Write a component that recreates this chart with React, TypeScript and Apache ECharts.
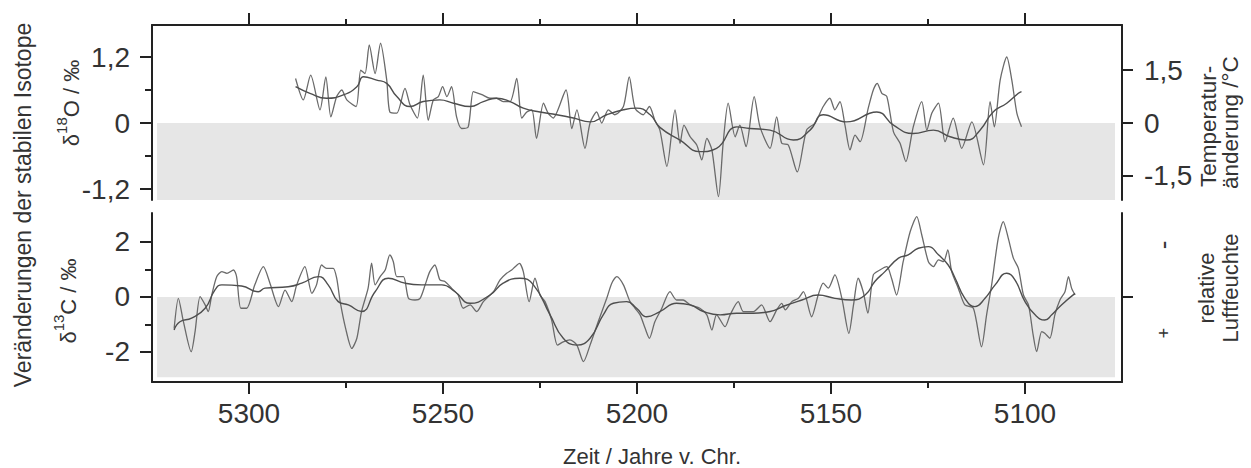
import React, { useEffect, useRef } from "react";
import * as echarts from "echarts";

// ---------- data ----------
const xMajorTicks = [5300, 5250, 5200, 5150, 5100];
const xMinorTicks = [5275, 5225, 5175, 5125];
const o18Ticks = [1.2, 0, -1.2];
const o18MinorTicks = [0.6, -0.6];
const tempTicks = [1.5, 0, -1.5];
const c13Ticks = [2, 0, -2];
const c13MinorTicks = [1, -1];
const humidityTicks = [0];

// δ18O raw (year v. Chr., ‰)
const o18Raw: [number, number][] = [
  [5288, 0.81], [5286, 0.42], [5284.1, 0.87], [5281.7, 0.24], [5280.2, 0.84], [5278.9, 0.11],
  [5277.4, 0.48], [5276.1, 0.6], [5274.8, 0.42], [5272.4, 0.3], [5271.2, 0.96], [5270.1, 0.9],
  [5269, 1.42], [5267.5, 0.9], [5266.1, 1.45], [5264.5, 0.78], [5263.7, 0.2], [5261.9, 0.18],
  [5259.8, 0.63], [5258.5, 0.33], [5256.6, 0.09], [5255.1, 0.87], [5253.8, 0.05], [5252.5, 0.42],
  [5251.2, 0.48], [5250.1, 0.66], [5249, 0.48], [5247.8, 0.66], [5246.5, 0.11], [5245.2, -0.1],
  [5243.5, -0.07], [5242.2, 0.57], [5240.9, 0.54], [5239.8, 0.51], [5237.9, 0.45], [5236.2, 0.45],
  [5234.5, 0.39], [5232.7, 0.39], [5231, 0.81], [5229.7, 0.09], [5228.4, 0.2], [5227.1, 0.24],
  [5225.9, -0.28], [5224.1, 0.36], [5222.9, 0.18], [5221.6, 0.09], [5218.3, 0.6], [5216.8, -0.1],
  [5215.5, 0.24], [5213.4, -0.46], [5212.1, 0], [5210.4, 0.2], [5209.1, 0], [5207.4, 0.24],
  [5205.7, 0.15], [5203.5, 0.3], [5202, 0.84], [5200.5, 0.27], [5198.4, 0.15], [5196.8, 0.3],
  [5195.4, 0.05], [5194.1, -0.13], [5192.3, -0.79], [5190.2, 0.24], [5188.9, -0.37], [5187.9, -0.04],
  [5186.3, -0.25], [5184.6, -0.4], [5183.3, -0.67], [5182, -0.28], [5180.7, -0.49], [5179, -1.34],
  [5177.8, -0.37], [5176.5, 0.36], [5174.7, -0.25], [5173.5, -0.04], [5171.9, -0.43], [5169.8, 0.48],
  [5168.3, -0.07], [5165.7, -0.46], [5164, 0.11], [5162.7, -0.37], [5161, -0.4], [5158.7, -0.89],
  [5156.3, -0.13], [5154.1, 0], [5152, 0.3], [5150.3, 0.45], [5149, 0.24], [5147.7, 0.39],
  [5146.4, -0.04], [5145.1, -0.49], [5143.8, -0.22], [5142.5, -0.34], [5140.4, 0.27], [5139.1, 0.6],
  [5138.1, 0.72], [5136.9, 0.54], [5135.6, 0.48], [5133.9, -0.16], [5132.2, -0.37], [5130.7, -0.7],
  [5128.8, -0.07], [5126.6, 0.39], [5125.3, -0.13], [5124, 0.18], [5122.3, 0.36], [5120.6, -0.34],
  [5118.5, 0.09], [5116.3, -0.46], [5113.7, 0.02], [5110.7, -0.76], [5109, 0.39], [5107.9, -0.07],
  [5106.4, 0.78], [5104.7, 1.2], [5103.4, 0.78], [5102.1, 0.18], [5100.9, -0.07],
];

// δ18O smoothed
const o18Smooth: [number, number][] = [
  [5288, 0.66], [5284.3, 0.54], [5280, 0.45], [5275.7, 0.51], [5272.2, 0.66], [5270.5, 0.84],
  [5267.1, 0.78], [5264.5, 0.72], [5261.9, 0.48], [5258.5, 0.3], [5255.1, 0.39], [5250.8, 0.42],
  [5247.3, 0.36], [5243, 0.3], [5239.6, 0.39], [5236.2, 0.45], [5232.7, 0.39], [5229.3, 0.27],
  [5225, 0.2], [5220.7, 0.15], [5216.4, 0.09], [5212.1, 0.02], [5207.8, 0.15], [5203.5, 0.24],
  [5200.1, 0.27], [5196.6, 0.15], [5194.1, -0.08], [5188.9, -0.31], [5183.8, -0.52], [5179.5, -0.46],
  [5174.3, -0.07], [5170.9, -0.1], [5165.7, -0.13], [5159.7, -0.31], [5155.4, -0.13], [5152, 0.15],
  [5146, 0.02], [5138.2, 0.2], [5133.9, -0.04], [5128.8, -0.19], [5123.6, -0.13], [5119.3, -0.25],
  [5115, -0.31], [5111.6, -0.13], [5108.2, 0.2], [5104.7, 0.36], [5101.7, 0.54], [5100.9, 0.57],
];

// δ13C raw
const c13Raw: [number, number][] = [
  [5319.3, -1.15], [5318.2, -0.05], [5316.9, -0.9], [5314.9, -1.99], [5313.9, -1.26], [5312.6, 0.01],
  [5311.3, -0.29], [5310.5, -0.53], [5309.6, 0.07], [5308.3, 0.74], [5307, 0.92], [5305.7, 0.86],
  [5304, 0.98], [5303.2, 0.74], [5302.1, -0.41], [5300.6, -0.41], [5298.5, 0.44], [5296.3, 1.1],
  [5294.6, 0.5], [5292.4, -0.35], [5290.7, 0.25], [5289, -0.17], [5287.7, 0.44], [5285.6, 1.1],
  [5283.8, 0.13], [5282.6, 0.44], [5281.3, 1.16], [5280, 1.04], [5278.3, 1.04], [5277.4, 0.68],
  [5276.5, -0.17], [5275.1, -1.14], [5273.5, -1.87], [5272.2, -1.5], [5271, -0.53], [5269.3, 0.32],
  [5268.4, 1.23], [5267.5, 0.44], [5266.2, 0.74], [5264.9, 0.98], [5263.7, 1.53], [5262.8, 1.28],
  [5261.9, 0.74], [5260.2, 0.74], [5258.9, -0.05], [5257.2, -0.11], [5255.9, -0.05], [5254.6, 0.44],
  [5253.4, 0.92], [5252.1, 1.16], [5250.8, 0.62], [5249.5, 0.56], [5247.8, 0.32], [5246.1, 0.07],
  [5244.8, -0.41], [5243, -0.29], [5241.3, -0.53], [5239.6, -0.17], [5237, 0.19], [5235.3, 0.62],
  [5233.6, 0.86], [5232.3, 0.98], [5231.4, 1.1], [5230.3, 1.22], [5229.3, 0.92], [5227.8, -0.17],
  [5226.3, 0.68], [5225, 0.07], [5223.7, -0.17], [5222, -0.84], [5220.5, -1.75], [5219, -1.63],
  [5217.3, -1.56], [5215.5, -1.75], [5213.8, -2.35], [5212.1, -1.75], [5210, -0.9], [5207.8, -0.05],
  [5206.5, 0.5], [5205.2, 0.74], [5203.5, 0.44], [5201.8, -0.17], [5200.5, -0.41], [5199.2, -0.65],
  [5197.9, -1.14], [5196.8, -1.5], [5195.4, -0.9], [5193.6, -0.41], [5191.5, 0.19], [5189.8, -0.11],
  [5188.1, -0.11], [5186.3, -0.29], [5183.8, -0.41], [5182, -0.65], [5180.7, -1.2], [5179.5, -0.65],
  [5177.3, -1.08], [5176, -0.65], [5173.9, -0.17], [5172.6, -0.53], [5170, -0.53], [5167.9, -0.29],
  [5165.7, -0.9], [5164, -0.47], [5162.7, -0.23], [5161.8, -0.47], [5160.1, -0.17], [5158.4, -0.05],
  [5157.1, 0.19], [5155, -0.72], [5153.3, 0.07], [5152, 0.5], [5150.7, 0.32], [5149, 0.8],
  [5147.2, -0.05], [5145.4, -1.32], [5144.2, -0.29], [5143, 0.68], [5141.7, 0.19], [5140.5, -0.59],
  [5139.1, 0.8], [5137.4, 0.98], [5135.6, 1.1], [5134.4, 0.68], [5133.1, 0.07], [5131.4, 1.28],
  [5129.6, 2.37], [5127.9, 2.92], [5126.6, 2.25], [5124.9, 1.28], [5123.6, 1.1], [5122.3, 1.35],
  [5121, 1.28], [5119.9, 1.71], [5118.9, 0.92], [5117.2, 0.32], [5115.5, -0.29], [5113.3, -0.41],
  [5111.2, -1.81], [5109.9, -0.65], [5108.6, 0.44], [5106.9, 2.13], [5105.6, 2.74], [5104.3, 2.13],
  [5103, 1.41], [5101.7, 1.04], [5100.4, 0.07], [5099.1, -0.29], [5097.9, -1.38], [5097, -1.99],
  [5095.7, -1.26], [5094.9, -1.32], [5093.6, -1.5], [5092.3, -0.65], [5091, -0.11], [5089.7, 0.19],
  [5088.8, 0.74], [5088, 0.32], [5087.1, 0.07],
];

// δ13C smoothed
const c13Smooth: [number, number][] = [
  [5319.3, -1.2], [5317.8, -0.9], [5314.8, -0.77], [5311.3, -0.41], [5308.8, 0.25], [5307, 0.44],
  [5301.9, 0.4], [5297.6, 0.19], [5295.9, 0.32], [5289.9, 0.37], [5286.4, 0.5], [5282.1, 0.74],
  [5279.6, 0.44], [5277, -0.17], [5274.4, -0.29], [5271, -0.53], [5267.5, 0.19], [5264.1, 0.68],
  [5259.8, 0.5], [5255.5, 0.44], [5250.3, 0.44], [5246.9, 0.19], [5243, -0.23], [5237.9, 0.07],
  [5234.5, 0.5], [5230.2, 0.68], [5226.7, 0.44], [5222.4, -0.65], [5219, -1.5], [5215.5, -1.75],
  [5212.1, -1.5], [5208.7, -0.65], [5206.1, -0.23], [5202.7, -0.17], [5200.1, -0.41], [5197.5, -0.72],
  [5194.1, -0.53], [5189.8, -0.23], [5186.3, -0.29], [5182.9, -0.53], [5178.6, -0.65], [5174.3, -0.59],
  [5170, -0.59], [5165.7, -0.53], [5161.9, -0.32], [5157.5, -0.11], [5153.3, 0.07], [5149, -0.05],
  [5144.7, -0.11], [5141.2, 0.07], [5138.7, 0.56], [5136.1, 0.92], [5132.6, 1.41], [5130.1, 1.53],
  [5127.5, 1.77], [5124.9, 1.83], [5122.3, 1.53], [5119.8, 1.16], [5118, 0.68], [5115.5, -0.05],
  [5112.9, -0.35], [5110.3, -0.05], [5107.7, 0.44], [5104.7, 0.86], [5102.6, 0.62], [5100, -0.17],
  [5097.4, -0.65], [5094.9, -0.84], [5093.1, -0.65], [5090.6, -0.29], [5087.1, 0.13],
];

// ---------- styles ----------
const FONT = "'Liberation Sans', Arial, Helvetica, sans-serif";
const AXIS_COLOR = "#222";
const TEXT_COLOR = "#333";
const LINE_RAW = "#6a6a6a";
const LINE_SMOOTH = "#4e4e4e";
const BAND = "#e6e6e6";

const comma = (v: number) => String(v).replace(".", ",");

export default function App() {
  const ref = useRef<HTMLDivElement>(null);

  useEffect(() => {
    if (!ref.current) return;
    const chart = echarts.init(ref.current, null, { renderer: "svg" });

    const xBase = (gridIndex: number, position: "top" | "bottom") => ({
      type: "value" as const,
      gridIndex,
      position,
      min: 5075,
      max: 5325,
      inverse: true,
      splitLine: { show: false },
    });

    const yBase = (gridIndex: number, position: "left" | "right", min: number, max: number) => ({
      type: "value" as const,
      gridIndex,
      position,
      min,
      max,
      splitLine: { show: false },
    });

    const lineAxis = { show: true, onZero: false, lineStyle: { color: AXIS_COLOR, width: 2 } };
    const noLine = { show: false, onZero: false };
    const tickStyle = { color: AXIS_COLOR, width: 2 };
    const tickLabel = { fontSize: 28, color: TEXT_COLOR, fontFamily: FONT };

    const option: any = {
      animation: false,
      grid: [
        { left: 152, right: 129, top: 25, height: 175 },
        { left: 152, right: 129, top: 213, height: 169 },
      ],
      xAxis: [
        {
          ...xBase(0, "top"),
          axisLine: lineAxis,
          axisTick: { show: true, customValues: xMajorTicks, length: 12, inside: false, lineStyle: tickStyle },
          axisLabel: { show: false },
        },
        {
          ...xBase(0, "top"),
          axisLine: noLine,
          axisTick: { show: true, customValues: xMinorTicks, length: 6, inside: false, lineStyle: tickStyle },
          axisLabel: { show: false },
        },
        {
          ...xBase(1, "bottom"),
          axisLine: lineAxis,
          axisTick: { show: true, customValues: xMajorTicks, length: 12, inside: false, lineStyle: tickStyle },
          axisLabel: { show: true, customValues: xMajorTicks, margin: 17, formatter: (v: number) => String(v), ...tickLabel },
        },
        {
          ...xBase(1, "bottom"),
          axisLine: noLine,
          axisTick: { show: true, customValues: xMinorTicks, length: 6, inside: false, lineStyle: tickStyle },
          axisLabel: { show: false },
        },
      ],
      yAxis: [
        {
          ...yBase(0, "left", -1.4, 1.782),
          axisLine: lineAxis,
          axisTick: { show: true, customValues: o18Ticks, length: 12, lineStyle: tickStyle },
          axisLabel: { show: true, customValues: o18Ticks, margin: 22, formatter: comma, ...tickLabel },
        },
        {
          ...yBase(0, "left", -1.4, 1.782),
          axisLine: noLine,
          axisTick: { show: true, customValues: o18MinorTicks, length: 7, lineStyle: tickStyle },
          axisLabel: { show: false },
        },
        {
          ...yBase(0, "right", -2.18, 2.776),
          axisLine: lineAxis,
          axisTick: { show: true, customValues: tempTicks, length: 11, lineStyle: tickStyle },
          axisLabel: { show: true, customValues: tempTicks, margin: 22, formatter: comma, ...tickLabel },
        },
        {
          ...yBase(1, "left", -3.09, 3.05),
          axisLine: lineAxis,
          axisTick: { show: true, customValues: c13Ticks, length: 12, lineStyle: tickStyle },
          axisLabel: { show: true, customValues: c13Ticks, margin: 22, formatter: comma, ...tickLabel },
        },
        {
          ...yBase(1, "left", -3.09, 3.05),
          axisLine: noLine,
          axisTick: { show: true, customValues: c13MinorTicks, length: 7, lineStyle: tickStyle },
          axisLabel: { show: false },
        },
        {
          ...yBase(1, "right", -3.09, 3.05),
          axisLine: lineAxis,
          axisTick: { show: true, customValues: humidityTicks, length: 11, lineStyle: tickStyle },
          axisLabel: { show: false },
        },
      ],
      series: [
        {
          type: "line",
          xAxisIndex: 0,
          yAxisIndex: 0,
          data: o18Raw,
          showSymbol: false,
          smooth: 0.25,
          lineStyle: { color: LINE_RAW, width: 1.3 },
          z: 3,
          markArea: {
            silent: true,
            itemStyle: { color: BAND },
            label: { show: false },
            data: [[{ xAxis: 5323.7, yAxis: 0 }, { xAxis: 5076.8, yAxis: -1.4 }]],
          },
        },
        {
          type: "line",
          xAxisIndex: 0,
          yAxisIndex: 0,
          data: o18Smooth,
          showSymbol: false,
          smooth: 0.5,
          lineStyle: { color: LINE_SMOOTH, width: 1.4 },
          z: 4,
        },
        {
          type: "line",
          xAxisIndex: 2,
          yAxisIndex: 3,
          data: c13Raw,
          showSymbol: false,
          smooth: 0.25,
          lineStyle: { color: LINE_RAW, width: 1.3 },
          z: 3,
          markArea: {
            silent: true,
            itemStyle: { color: BAND },
            label: { show: false },
            data: [[{ xAxis: 5323.7, yAxis: 0 }, { xAxis: 5076.8, yAxis: -2.92 }]],
          },
        },
        {
          type: "line",
          xAxisIndex: 2,
          yAxisIndex: 3,
          data: c13Smooth,
          showSymbol: false,
          smooth: 0.5,
          lineStyle: { color: LINE_SMOOTH, width: 1.4 },
          z: 4,
        },
      ],
      graphic: [
        {
          type: "text",
          x: 23,
          y: 205,
          rotation: Math.PI / 2,
          style: {
            text: "Veränderungen der stabilen Isotope",
            fontSize: 23,
            fontFamily: FONT,
            fill: TEXT_COLOR,
            align: "center",
            verticalAlign: "middle",
          },
        },
        {
          type: "text",
          x: 68,
          y: 103,
          rotation: Math.PI / 2,
          style: {
            text: "{b|δ}{s|18}{b|O / ‰}",
            fontFamily: FONT,
            fill: TEXT_COLOR,
            align: "center",
            verticalAlign: "middle",
            rich: {
              b: { fontSize: 22, fontFamily: FONT, fill: TEXT_COLOR, lineHeight: 28, verticalAlign: "bottom" },
              s: { fontSize: 15, fontFamily: FONT, fill: TEXT_COLOR, lineHeight: 14, verticalAlign: "top" },
            },
          },
        },
        {
          type: "text",
          x: 65,
          y: 301,
          rotation: Math.PI / 2,
          style: {
            text: "{b|δ}{s|13}{b|C / ‰}",
            fontFamily: FONT,
            fill: TEXT_COLOR,
            align: "center",
            verticalAlign: "middle",
            rich: {
              b: { fontSize: 22, fontFamily: FONT, fill: TEXT_COLOR, lineHeight: 28, verticalAlign: "bottom" },
              s: { fontSize: 15, fontFamily: FONT, fill: TEXT_COLOR, lineHeight: 14, verticalAlign: "top" },
            },
          },
        },
        {
          type: "text",
          x: 1208,
          y: 187,
          rotation: Math.PI / 2,
          style: { text: "Temperatur-", fontSize: 22.5, fontFamily: FONT, fill: TEXT_COLOR, align: "left", verticalAlign: "middle" },
        },
        {
          type: "text",
          x: 1230,
          y: 189,
          rotation: Math.PI / 2,
          style: { text: "änderung /°C", fontSize: 22.5, fontFamily: FONT, fill: TEXT_COLOR, align: "left", verticalAlign: "middle" },
        },
        {
          type: "text",
          x: 1206,
          y: 288,
          rotation: Math.PI / 2,
          style: { text: "relative", fontSize: 22, fontFamily: FONT, fill: TEXT_COLOR, align: "center", verticalAlign: "middle" },
        },
        {
          type: "text",
          x: 1230,
          y: 288,
          rotation: Math.PI / 2,
          style: { text: "Luftfeuchte", fontSize: 22, fontFamily: FONT, fill: TEXT_COLOR, align: "center", verticalAlign: "middle" },
        },
        {
          type: "text",
          x: 1163,
          y: 245,
          rotation: Math.PI / 2,
          style: { text: "-", fontSize: 26, fontFamily: FONT, fill: TEXT_COLOR, align: "center", verticalAlign: "middle" },
        },
        {
          type: "text",
          x: 1164,
          y: 333,
          rotation: Math.PI / 2,
          style: { text: "+", fontSize: 18, fontFamily: FONT, fill: TEXT_COLOR, align: "center", verticalAlign: "middle" },
        },
        {
          type: "text",
          x: 652,
          y: 456,
          style: { text: "Zeit / Jahre v. Chr.", fontSize: 22, fontFamily: FONT, fill: TEXT_COLOR, align: "center", verticalAlign: "middle" },
        },
      ],
    };

    chart.setOption(option);
    return () => chart.dispose();
  }, []);

  return (
    <div
      ref={ref}
      style={{ position: "fixed", left: 0, top: 0, width: 1251, height: 468, background: "#fff" }}
    />
  );
}
